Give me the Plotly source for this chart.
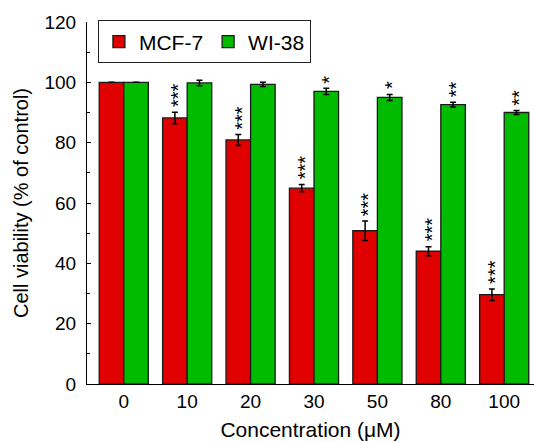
import plotly.graph_objects as go

concentrations = ["0", "10", "20", "30", "50", "80", "100"]
mcf7 = [100, 88.2, 80.9, 64.9, 50.8, 44.0, 29.6]
mcf7_err = [0, 1.9, 1.8, 1.2, 3.2, 1.5, 1.9]
wi38 = [100, 99.8, 99.3, 97.0, 95.0, 92.6, 90.0]
wi38_err = [0, 0.9, 0.7, 1.0, 1.0, 0.8, 0.7]
mcf7_sig = ["", "***", "***", "***", "***", "***", "***"]
wi38_sig = ["", "", "", "*", "*", "**", "**"]

FONT = "Liberation Sans, Arial, sans-serif"
RED = "#E00000"
GREEN = "#00BB00"

x = list(range(len(concentrations)))
fig = go.Figure()
fig.add_trace(go.Bar(
    x=x, y=mcf7, name="MCF-7",
    marker=dict(color=RED, line=dict(color="#1a1a1a", width=1.3)),
    error_y=dict(type="data", array=mcf7_err, color="black", thickness=1.5, width=3),
))
fig.add_trace(go.Bar(
    x=x, y=wi38, name="WI-38",
    marker=dict(color=GREEN, line=dict(color="#1a1a1a", width=1.3)),
    error_y=dict(type="data", array=wi38_err, color="black", thickness=1.5, width=3),
))

bargap = 0.225
off = (1 - bargap) / 4
for i in x:
    for vals, errs, sig, sgn in ((mcf7, mcf7_err, mcf7_sig, -1), (wi38, wi38_err, wi38_sig, 1)):
        if sig[i]:
            fig.add_annotation(
                x=i + sgn * off, y=vals[i] + errs[i], text=sig[i],
                textangle=-90, showarrow=False, xanchor="center", yanchor="bottom",
                yshift=3, xshift=3,
                font=dict(family=FONT, size=20, color="black"),
            )

fig.update_layout(
    width=534, height=442,
    margin=dict(l=87, r=0, t=22, b=58, autoexpand=False),
    paper_bgcolor="white", plot_bgcolor="white",
    barmode="group", bargap=bargap, bargroupgap=0,
    font=dict(family=FONT, size=19, color="black"),
    showlegend=True,
    legend=dict(
        orientation="h", x=0.024, y=1.005, xanchor="left", yanchor="top",
        bordercolor="#222", borderwidth=1.2, bgcolor="white",
        font=dict(family=FONT, size=21, color="black"),
        itemwidth=30, tracegroupgap=0,
    ),
    xaxis=dict(
        range=[-0.58, 6.47], tickmode="array", tickvals=x, ticktext=concentrations,
        showline=True, linecolor="black", linewidth=1.2, ticks="", showgrid=False, zeroline=False,
        title=dict(text="Concentration (μM)", standoff=11, font=dict(size=21)),
        tickfont=dict(size=19), automargin=False,
    ),
    yaxis=dict(
        range=[0, 120], tickmode="linear", dtick=20, tick0=0,
        showline=True, linecolor="black", linewidth=1.2,
        ticks="inside", ticklen=4, tickwidth=1.2, tickcolor="black",
        minor=dict(dtick=10, ticks="inside", ticklen=3, tickwidth=1, tickcolor="black"),
        showgrid=False, zeroline=False,
        title=dict(text="Cell viability (% of control)", standoff=10, font=dict(size=20)),
        tickfont=dict(size=19), automargin=False, ticklabelstandoff=6,
    ),
)

fig.write_html("out.html", config={"displayModeBar": False},
               post_script="document.body.style.margin='0';")
